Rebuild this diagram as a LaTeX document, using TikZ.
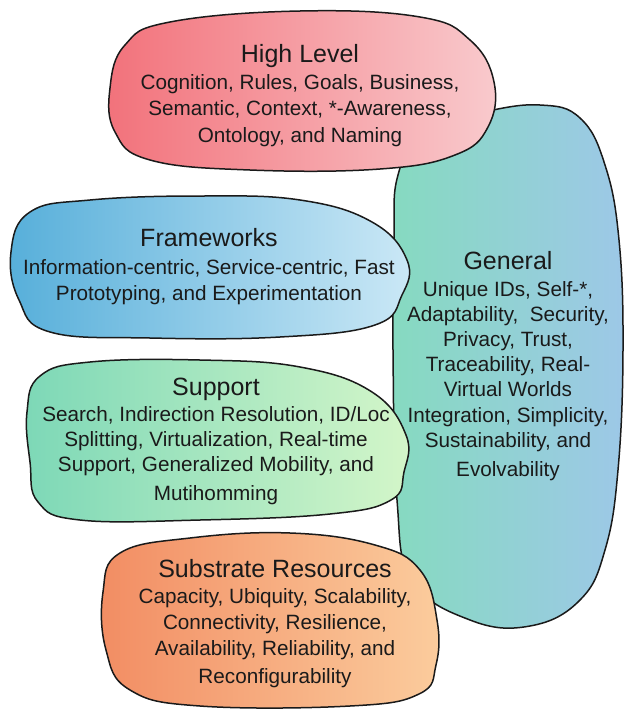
\documentclass[tikz,border=0pt]{standalone}
\usepackage{fontspec}
\setmainfont{Liberation Sans}
\definecolor{hlL}{HTML}{F2727B}
\definecolor{hlR}{HTML}{F9CACD}
\definecolor{genL}{HTML}{86DAC0}
\definecolor{genR}{HTML}{9DC8E7}
\definecolor{fwL}{HTML}{57AFDA}
\definecolor{fwR}{HTML}{CBE8F6}
\definecolor{spL}{HTML}{7DD8B7}
\definecolor{spR}{HTML}{D4F6C9}
\definecolor{sbL}{HTML}{F28D63}
\definecolor{sbR}{HTML}{FBCC9D}
\definecolor{ink}{HTML}{1A1A1A}
\begin{document}
\begin{tikzpicture}[x=1pt,y=-1pt,
  blob/.style={draw=ink, line width=1.5pt, line join=round},
  ttl/.style={font=\fontsize{25}{30}\selectfont, text=ink, anchor=base, inner sep=0pt},
  txt/.style={font=\fontsize{20.7}{25}\selectfont, text=ink, anchor=base, inner sep=0pt}]
\useasboundingbox (0,0) rectangle (625,710);

% General (tall blob on the right, drawn first so the others overlap it)
\path[blob, left color=genL, right color=genR]
  plot[smooth cycle, tension=0.7] coordinates {
    (398,175) (425,128) (483,112) (540,105) (580,118) (605,165) (619,240)
    (623,350) (618,470) (605,550) (580,600) (530,626) (470,620) (412,580)
    (397,500) (393,350) (394,240)};

% High Level
\path[blob, left color=hlL, right color=hlR]
  plot[smooth cycle, tension=0.7] coordinates {
    (110,88) (125,45) (170,22) (300,11) (420,17) (470,40) (494,82)
    (488,127) (455,155) (380,169) (250,170) (150,160) (115,132)};

% Frameworks
\path[blob, left color=fwL, right color=fwR]
  plot[smooth cycle, tension=0.7] coordinates {
    (11,252) (30,212) (90,200) (200,196) (300,200) (372,222) (407,260)
    (402,295) (375,325) (280,337) (150,338) (50,332) (19,300)};

% Support
\path[blob, left color=spL, right color=spR]
  plot[smooth cycle, tension=0.7] coordinates {
    (27,412) (40,376) (90,362) (200,360) (300,367) (372,392) (406,435)
    (404,472) (391,500) (330,514) (200,520) (80,520) (38,502) (30,462)};

% Substrate Resources
\path[blob, left color=sbL, right color=sbR]
  plot[smooth cycle, tension=0.7] coordinates {
    (103,592) (120,553) (190,538) (290,533) (375,545) (420,570) (437,620)
    (436,665) (419,694) (350,706) (200,706) (130,690) (106,650)};

% Labels
\node[ttl] (hl) at (300,62.5) {High Level};
\foreach \y/\t [count=\i] in {89/{Cognition, Rules, Goals, Business,},
    115/{Semantic, Context, *-Awareness,}, 142/{Ontology, and Naming}}
  \node[txt, name=hl\i] at (300,\y) {\t};

\node[ttl] (gen) at (508,269) {General};
\foreach \y/\t [count=\i] in {296.5/{Unique IDs, Self-*,},
    321.5/{Adaptability,~ Security,}, 346.5/{Privacy, Trust,},
    371.5/{Traceability, Real-}, 396.5/{Virtual Worlds},
    422/{Integration, Simplicity,}, 447/{Sustainability, and},
    476/{Evolvability}}
  \node[txt, name=gen\i] at (508,\y) {\t};

\node[ttl] (fw) at (209,246.7) {Frameworks};
\foreach \y/\t [count=\i] in {274/{Information-centric, Service-centric, Fast},
    300.7/{Prototyping, and Experimentation}}
  \node[txt, name=fw\i] at (209,\y) {\t};

\node[ttl] (sp) at (216,395) {Support};
\foreach \y/\t [count=\i] in {421.7/{Search, Indirection Resolution, ID/Loc},
    446.7/{Splitting, Virtualization, Real-time},
    471.7/{Support, Generalized Mobility, and}, 500/{Mutihomming}}
  \node[txt, name=sp\i] at (216,\y) {\t};

\node[ttl] (sb) at (275,577.3) {Substrate Resources};
\foreach \y/\t [count=\i] in {603.3/{Capacity, Ubiquity, Scalability,},
    629.3/{Connectivity, Resilience,},
    655/{Availability, Reliability, and}, 683.3/{Reconfigurability}}
  \node[txt, name=sb\i] at (275,\y) {\t};
\end{tikzpicture}
\end{document}
